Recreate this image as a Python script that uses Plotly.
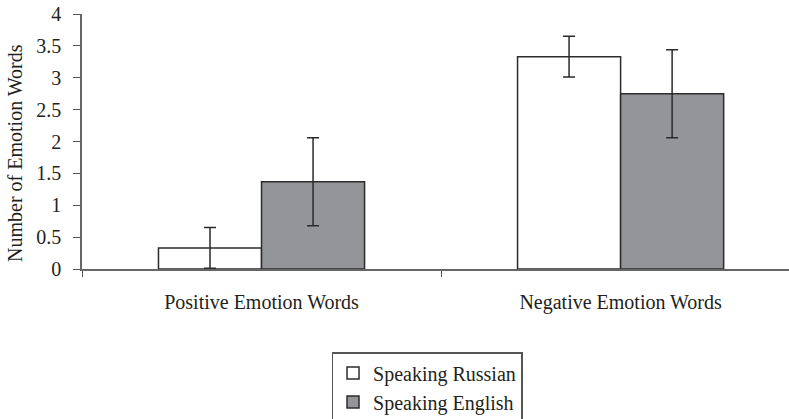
import plotly.graph_objects as go

categories = ["Positive Emotion Words", "Negative Emotion Words"]
russian = [0.33, 3.33]
russian_err = [0.32, 0.32]
english = [1.37, 2.75]
english_err = [0.69, 0.69]
y_ticks = [0, 0.5, 1, 1.5, 2, 2.5, 3, 3.5, 4]
y_ticktext = ["0", "0.5", "1", "1.5", "2", "2.5", "3", "3.5", "4"]
y_title = "Number of Emotion Words"

FONT = "Liberation Serif"
TXT = "#231f20"

fig = go.Figure()
fig.add_trace(go.Bar(
    name="Speaking Russian", x=categories, y=russian,
    marker=dict(color="#ffffff", line=dict(color="#2e2b2c", width=1.5)),
    error_y=dict(type="data", array=russian_err, color="#2a2a2a", thickness=1.5, width=6),
))
fig.add_trace(go.Bar(
    name="Speaking English", x=categories, y=english,
    marker=dict(color="#939598", line=dict(color="#2e2b2c", width=1.5)),
    error_y=dict(type="data", array=english_err, color="#2a2a2a", thickness=1.5, width=6),
))

fig.add_annotation(
    text=y_title, textangle=-90, xref="paper", yref="paper",
    x=-0.0948, y=0.455, xanchor="center", yanchor="middle", showarrow=False,
    font=dict(family=FONT, size=20, color=TXT),
)

fig.update_layout(
    width=789, height=419,
    margin=dict(l=82, r=0, t=14, b=150, autoexpand=False),
    paper_bgcolor="white", plot_bgcolor="white",
    barmode="group", bargap=0.426, bargroupgap=0,
    font=dict(family=FONT, size=20, color=TXT),
    showlegend=True,
    legend=dict(
        x=0.488, xanchor="center", y=-0.3255, yanchor="top",
        bordercolor="#555555", borderwidth=1.5,
        font=dict(family=FONT, size=20, color=TXT),
        tracegroupgap=0, itemwidth=30,
    ),
    xaxis=dict(
        range=[-0.5, 1.469], tickson="boundaries",
        ticks="outside", ticklen=6, tickcolor="#555555",
        showline=True, linecolor="#666666", linewidth=1.5,
        showgrid=False, ticklabelstandoff=14, automargin=False,
        ticklabeloverflow="allow",
        tickfont=dict(family=FONT, size=20, color=TXT),
    ),
    yaxis=dict(
        range=[0, 4], tickvals=y_ticks, ticktext=y_ticktext,
        ticks="outside", ticklen=7, tickcolor="#555555",
        showline=True, linecolor="#666666", linewidth=1.5,
        showgrid=False, zeroline=False, automargin=False,
        ticklabelstandoff=8, ticklabeloverflow="allow",
        tickfont=dict(family=FONT, size=20, color=TXT),
    ),
)

fig.write_html(
    "out.html",
    config={"displayModeBar": False},
    post_script="document.body.style.margin='0';",
)
